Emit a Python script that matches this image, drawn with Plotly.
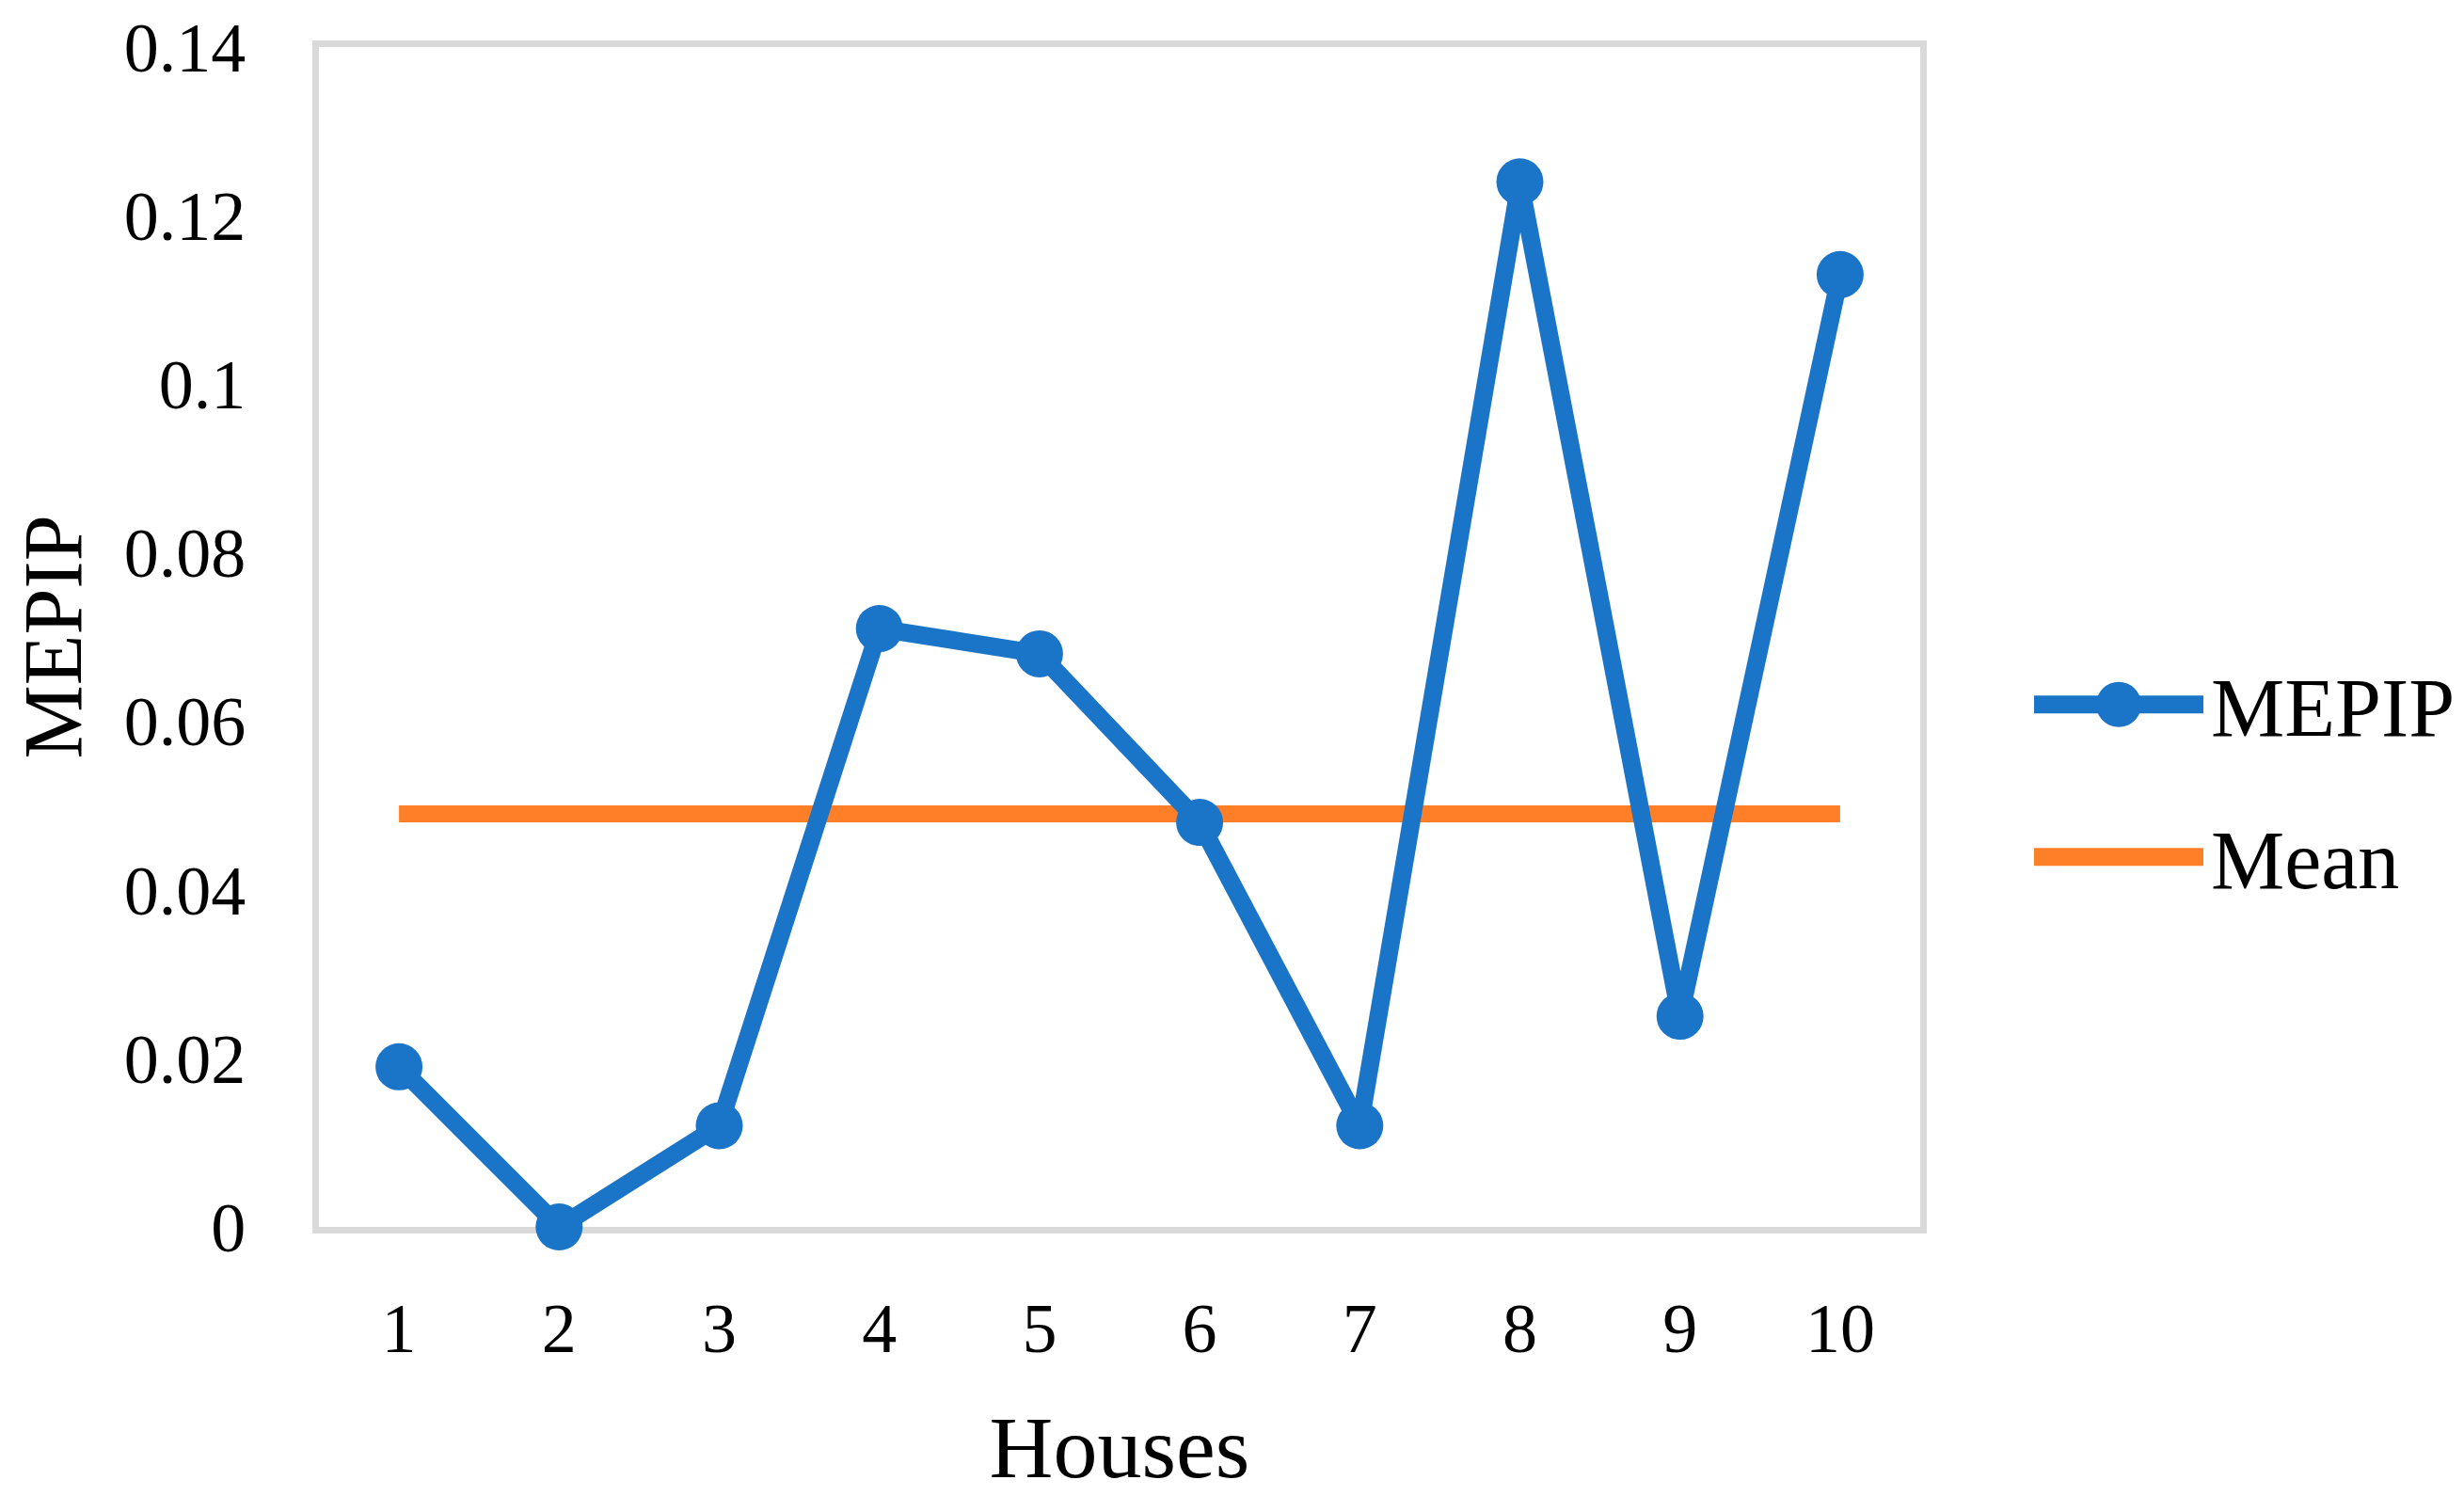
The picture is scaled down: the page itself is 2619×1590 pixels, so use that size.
import plotly.graph_objects as go

houses = ["1", "2", "3", "4", "5", "6", "7", "8", "9", "10"]
mepip = [0.019, 0.0, 0.012, 0.071, 0.068, 0.048, 0.012, 0.124, 0.025, 0.113]
mean_value = 0.049
mean_line = [mean_value] * len(houses)
y_ticks = [0, 0.02, 0.04, 0.06, 0.08, 0.1, 0.12, 0.14]
y_tick_text = ["0", "0.02", "0.04", "0.06", "0.08", "0.1", "0.12", "0.14"]

BLUE = "#1a74c8"
ORANGE = "#fe7f27"
FONT = "Liberation Serif"

fig = go.Figure()
fig.add_trace(go.Scatter(x=houses, y=mean_line, mode="lines", name="Mean",
                         line=dict(color=ORANGE, width=18), showlegend=False,
                         cliponaxis=False))
fig.add_trace(go.Scatter(x=houses, y=mepip, mode="lines+markers", name="MEPIP",
                         line=dict(color=BLUE, width=19),
                         marker=dict(color=BLUE, size=50),
                         showlegend=False, cliponaxis=False))

OFF = 8  # default page body margin
W, H = 2619 - OFF, 1590 - OFF
# page-coordinate targets of the plot area
PL, PR, PT, PB = 339, 2041, 50, 1304.5
L, T = PL - OFF, PT - OFF
R = (W + OFF) - PR
B = (H + OFF) - PB

fig.update_layout(
    width=W, height=H,
    margin=dict(l=L, r=R, t=T, b=B, pad=0, autoexpand=False),
    paper_bgcolor="white", plot_bgcolor="white",
    font=dict(family=FONT, color="black", size=74),
    showlegend=False,
)
fig.update_xaxes(
    type="category", range=[-0.5, 9.5], automargin=False, layer="below traces",
    showgrid=False, zeroline=False,
    showline=True, linecolor="#d9d9d9", linewidth=7, mirror=True,
    ticks="", ticklabelstandoff=37,
    tickfont=dict(family=FONT, size=74),
    title=dict(text="Houses", font=dict(family=FONT, size=94), standoff=74),
)
fig.update_yaxes(
    range=[0, 0.14], tickvals=y_ticks, ticktext=y_tick_text, automargin=False,
    layer="below traces",
    showgrid=False, zeroline=False,
    showline=True, linecolor="#d9d9d9", linewidth=7, mirror=True,
    ticks="", ticklabelstandoff=56,
    tickfont=dict(family=FONT, size=74),
    title=dict(text="MEPIP", font=dict(family=FONT, size=88), standoff=47),
)

# custom legend (positions given in page pixels, converted to paper coords)
pw = W - L - R
ph = H - T - B
def px(xpage):
    return (xpage - OFF - L) / pw
def py(ypage):
    return (H - B - (ypage - OFF)) / ph

legend_items = [("MEPIP", BLUE, True, 749), ("Mean", ORANGE, False, 911)]
for label, color, has_marker, yc in legend_items:
    fig.add_shape(type="line", xref="paper", yref="paper",
                  x0=px(2162), x1=px(2342), y0=py(yc), y1=py(yc),
                  line=dict(color=color, width=19))
    if has_marker:
        fig.add_shape(type="circle", xref="paper", yref="paper",
                      x0=px(2252 - 24), x1=px(2252 + 24),
                      y0=py(yc + 24), y1=py(yc - 24),
                      fillcolor=color, line=dict(color=color, width=0))
    fig.add_annotation(xref="paper", yref="paper", x=px(2348), y=py(yc + 4),
                       text=label, showarrow=False, xanchor="left", yanchor="middle",
                       font=dict(family=FONT, size=88, color="black"))

fig.write_html("out.html")
